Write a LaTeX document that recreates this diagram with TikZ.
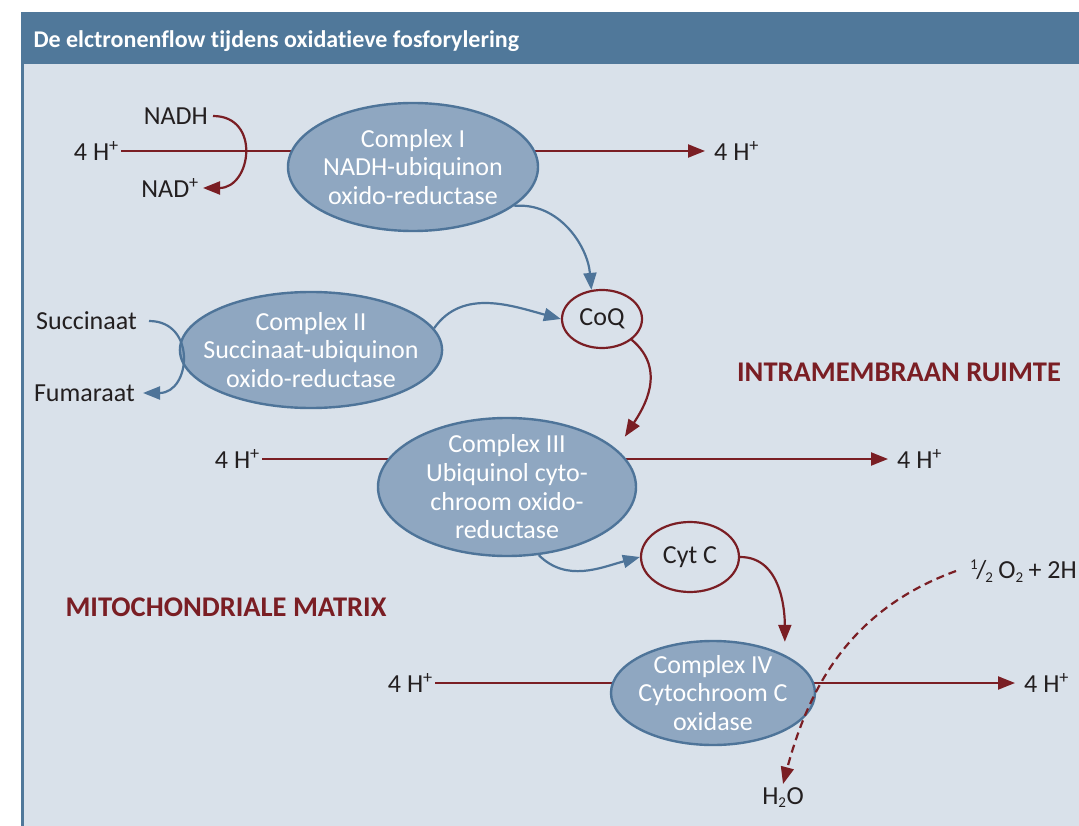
\documentclass[tikz,border=0pt]{standalone}
\usepackage{fontspec}
\setmainfont{Carlito}[Ligatures=NoCommon]
\usetikzlibrary{positioning, arrows.meta, shapes.geometric, backgrounds}
\definecolor{hdrblue}{RGB}{80,120,154}
\definecolor{panel}{RGB}{217,225,234}
\definecolor{cfill}{RGB}{143,167,193}
\definecolor{cline}{RGB}{78,116,153}
\definecolor{dred}{RGB}{122,30,36}
\definecolor{ink}{RGB}{35,31,32}
\newcommand{\lowidx}[1]{\textsubscript{\fontsize{15}{15}\selectfont #1}}

\begin{document}
\begin{tikzpicture}[
  x=1pt, y=1pt,
  font=\fontsize{26}{28.7}\selectfont,
  cplx/.style={ellipse, draw=cline, fill=cfill, line width=2.4pt, text=white,
               align=center, inner sep=-15pt},
  carrier/.style={ellipse, draw=dred, line width=2.2pt, text=ink, inner sep=-10pt},
  lbl/.style={text=ink, inner sep=2pt},
  rlbl/.style={lbl, inner xsep=9pt},
  rline/.style={dred, line width=2.2pt},
  rarr/.style={rline, -{Triangle[length=17pt, width=13pt]}},
  barr/.style={cline, line width=2.2pt, -{Triangle[length=17pt, width=13pt]}},
  zone/.style={dred, font=\fontsize{28.5}{32}\selectfont\bfseries},
]
\useasboundingbox (0,0) rectangle (1079,-826);

\node[text=white, anchor=west, font=\fontsize{24}{28}\selectfont\bfseries] (title) at (30,-41)
  {De elctronenflow tijdens oxidatieve fosforylering};

\node[cplx, minimum width=250pt, minimum height=128pt] (c1) at (413,-167)
  {Complex I\\ NADH-ubiquinon\\ oxido-reductase};
\node[cplx, minimum width=250pt, minimum height=116pt] (c2) at (311,-350)
  {Complex II\\ Succinaat-ubiquinon\\ oxido-reductase};
\node[cplx, minimum width=258pt, minimum height=138pt] (c3) at (507,-487)
  {Complex III\\ Ubiquinol cyto-\\ chroom oxido-\\ reductase};
\node[cplx, minimum width=204pt, minimum height=104pt] (c4) at (713,-693)
  {Complex IV\\ Cytochroom C\\ oxidase};
\node[carrier, minimum width=80pt, minimum height=58pt] (coq) at (602,-319) {CoQ};
\node[carrier, minimum width=98pt, minimum height=70pt] (cytc) at (690,-557) {Cyt C};

\node[lbl, anchor=east] (h1l) at (121,-151) {4 H\textsuperscript{+}};
\node[rlbl, anchor=west] (h1r) at (705,-151) {4 H\textsuperscript{+}};
\node[lbl, anchor=east] (h3l) at (262,-459) {4 H\textsuperscript{+}};
\node[rlbl, anchor=west] (h3r) at (888,-459) {4 H\textsuperscript{+}};
\node[lbl, anchor=east] (h4l) at (435,-683) {4 H\textsuperscript{+}};
\node[rlbl, anchor=west] (h4r) at (1015,-683) {4 H\textsuperscript{+}};

\node[lbl, anchor=east, inner xsep=5pt] (nadh) at (213,-116) {NADH};
\node[lbl, anchor=east, inner xsep=4pt] (nad) at (203,-188) {NAD\textsuperscript{+}};
\node[lbl, anchor=east, inner xsep=12pt] (succ) at (149,-321) {Succinaat};
\node[lbl, anchor=east, inner xsep=8pt] (fum) at (143,-393) {Fumaraat};

\node[lbl, anchor=west, inner xsep=14pt] (o2) at (956,-571)
  {\textsuperscript{\fontsize{15}{15}\selectfont 1}\kern-2pt/\kern-1pt\lowidx{2}\kern5pt O\lowidx{2}\kern-1pt{} + 2H};
\node[lbl, anchor=north, inner ysep=3pt] (h2o) at (783,-784) {H\lowidx{2}O};

\node[zone] (ims) at (899,-372) {INTRAMEMBRAAN RUIMTE};
\node[zone] (mat) at (226,-607) {MITOCHONDRIALE MATRIX};

\begin{scope}[on background layer]
\fill[hdrblue] (21,-12) rectangle (1079,-64);
\fill[hdrblue] (21,-64) rectangle (24,-826);
\fill[panel] (24,-64) rectangle (1079,-826);
\draw[rline] (h1l.east) -- (h1l.east -| c1.center);
\draw[rarr] (h1r.west -| c1.center) -- (h1r.west);
\draw[rline] (h3l.east) -- (h3l.east -| c3.center);
\draw[rarr] (h3r.west -| c3.center) -- (h3r.west);
\draw[rline] (h4l.east) -- (h4l.east -| c4.center);
\draw[rarr] (h4r.west -| c4.center) -- (h4r.west);
\end{scope}

\draw[rarr] (nadh.east) to[out=0, in=0, looseness=1.7] (nad.east);
\draw[barr] (succ.east) to[out=0, in=0, looseness=1.7] (fum.east);

\draw[barr] (c1.-21) to[out=5, in=95] (coq.110);
\draw[barr] (c2.10) to[out=55, in=165] (coq.west);
\draw[barr] (c3.-65) to[out=-45, in=195] (cytc.west);

\draw[rarr, shorten >=15pt] (coq.-35) to[out=-40, in=57, looseness=1.1] (c3.19);
\draw[rarr, shorten >=13pt] (cytc.east) to[out=0, in=90] (c4.28);
\draw[rarr, dash pattern=on 8pt off 5pt] (o2.west) to[out=200, in=75] (h2o.north);
\end{tikzpicture}
\end{document}
